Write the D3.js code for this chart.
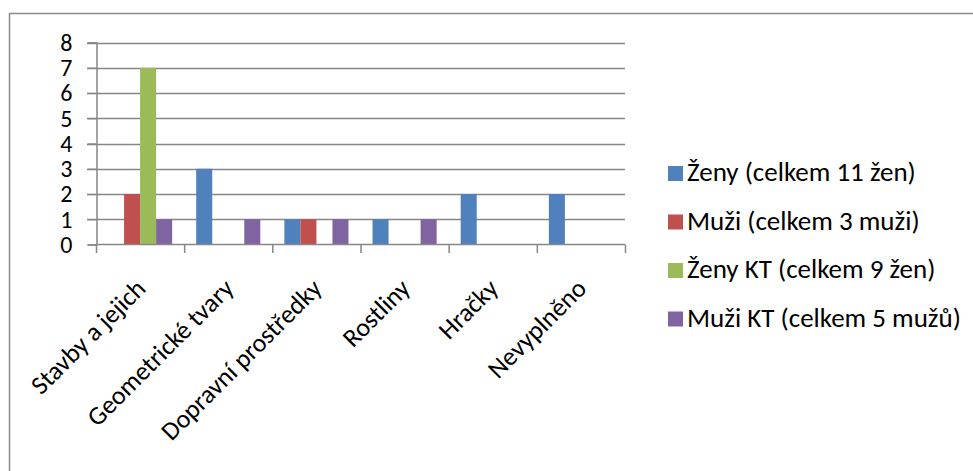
<!DOCTYPE html>
<html>
<head>
<meta charset="utf-8">
<script src="https://cdn.jsdelivr.net/npm/d3@7"></script>
<style>
  html, body { margin: 0; padding: 0; background: #fff; }
  svg { display: block; }
  text { font-family: Carlito, "Open Sans", sans-serif; fill: #000; }
</style>
</head>
<body>
<svg id="chart" width="973" height="471"></svg>
<script>
const categories = ["Stavby a jejich", "Geometrické tvary", "Dopravní prostředky", "Rostliny", "Hračky", "Nevyplněno"];
const seriesNames = ["Ženy (celkem 11 žen)", "Muži (celkem 3 muži)", "Ženy KT (celkem 9 žen)", "Muži KT (celkem 5 mužů)"];
const zeny   = [0, 3, 1, 1, 2, 2];
const muzi   = [2, 0, 1, 0, 0, 0];
const zenyKT = [7, 0, 0, 0, 0, 0];
const muziKT = [1, 1, 1, 1, 0, 0];
const yTicks = [0, 1, 2, 3, 4, 5, 6, 7, 8];
const colors = ["#4F81BD", "#C0504D", "#9BBB59", "#8064A2"];

const seriesValues = [zeny, muzi, zenyKT, muziKT];

const svg = d3.select("#chart");
const plot = { left: 96, right: 625, top: 42.5, bottom: 244.5 };
const axisColor = "#868686";
const FONT = "Carlito, 'Open Sans', sans-serif";

// outer chart border (only top and left visible in the frame)
svg.append("rect")
  .attr("x", 9.5).attr("y", 13.5)
  .attr("width", 1000).attr("height", 1000)
  .attr("fill", "none").attr("stroke", "#8a8a8a").attr("stroke-width", 1.5);

const x = d3.scaleBand().domain(categories).range([plot.left, plot.right]).paddingInner(0).paddingOuter(0);
const y = d3.scaleLinear().domain([0, 8]).range([plot.bottom, plot.top]);

const barW = x.bandwidth() / 5.5;
const xs = d3.scaleBand().domain(d3.range(4)).range([barW * 0.75, x.bandwidth() - barW * 0.75]).padding(0);

// gridlines
svg.append("g").selectAll("line").data(yTicks.filter(d => d > 0)).join("line")
  .attr("x1", plot.left - 9).attr("x2", plot.right)
  .attr("y1", d => Math.round(y(d)) + 0.5).attr("y2", d => Math.round(y(d)) + 0.5)
  .attr("stroke", axisColor).attr("stroke-width", 1.3);

// bars
const groups = svg.append("g").selectAll("g").data(seriesValues).join("g")
  .attr("fill", (d, i) => colors[i]);
groups.each(function(vals, si) {
  d3.select(this).selectAll("rect").data(vals.map((v, ci) => ({ v, c: categories[ci] })))
    .join("rect")
    .filter(d => d.v > 0)
    .attr("x", d => x(d.c) + xs(si))
    .attr("width", xs.bandwidth())
    .attr("y", d => y(d.v))
    .attr("height", d => y(0) - y(d.v));
});

// y axis
const yAxis = d3.axisLeft(y).tickValues(yTicks).tickSize(9).tickPadding(15);
const gy = svg.append("g").attr("transform", `translate(${plot.left + 0.5},0)`).call(yAxis);
gy.select(".domain").attr("stroke", axisColor).attr("stroke-width", 1.5);
gy.selectAll(".tick line").attr("stroke", axisColor).attr("stroke-width", 1.3);
gy.selectAll(".tick text").attr("font-size", 24).attr("fill", "#000")
  .attr("dy", "0.33em")
  .style("font-family", FONT);

// x axis
const boundaries = d3.range(categories.length + 1).map(i => plot.left + i * x.step());
const gx = svg.append("g");
gx.append("line").attr("x1", plot.left).attr("x2", plot.right)
  .attr("y1", plot.bottom).attr("y2", plot.bottom)
  .attr("stroke", axisColor).attr("stroke-width", 1.5);
gx.selectAll("line.tk").data(boundaries).join("line").attr("class", "tk")
  .attr("x1", d => d + 0.5).attr("x2", d => d + 0.5)
  .attr("y1", plot.bottom).attr("y2", plot.bottom + 8.5)
  .attr("stroke", axisColor).attr("stroke-width", 1.5);
gx.selectAll("text").data(categories).join("text")
  .attr("transform", d => `translate(${x(d) + x.bandwidth() / 2 + 7},${290}) rotate(-45)`)
  .attr("text-anchor", "end")
  .attr("font-size", 26)
  .text(d => d);

// legend
const legend = svg.append("g").selectAll("g").data(seriesNames).join("g")
  .attr("transform", (d, i) => `translate(668,${181 + i * 48.5})`);
legend.append("rect").attr("x", 0).attr("y", -15).attr("width", 15).attr("height", 15)
  .attr("fill", (d, i) => colors[i]);
legend.append("text").attr("x", 19).attr("y", 0).attr("font-size", 27).text(d => d);
</script>
</body>
</html>
